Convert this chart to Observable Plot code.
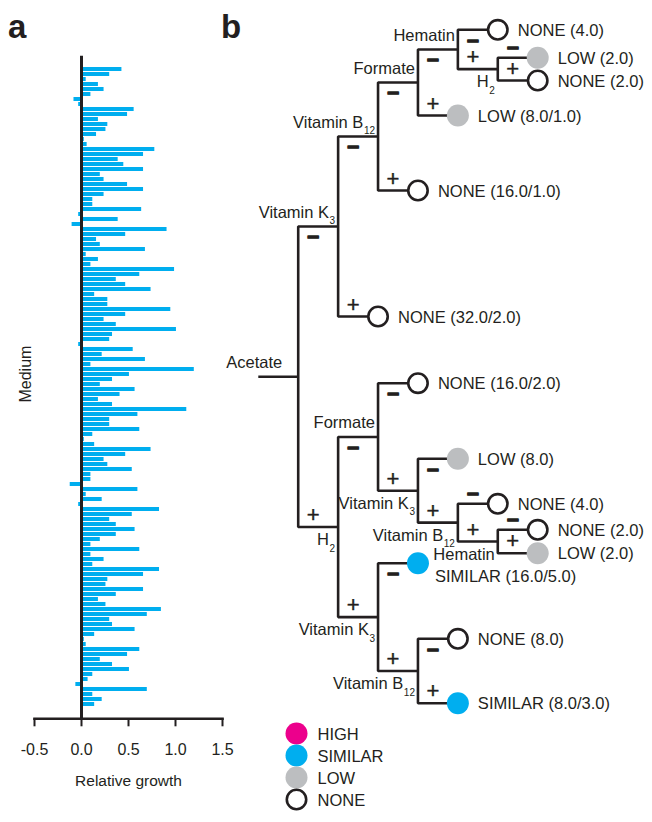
<!DOCTYPE html>
<html>
<head>
<meta charset="utf-8">
<script src="https://cdn.jsdelivr.net/npm/d3@7"></script>
<script src="https://cdn.jsdelivr.net/npm/@observablehq/plot@0.6"></script>
<style>
  html, body { margin: 0; padding: 0; background: #fff; }
  #wrap { position: relative; width: 652px; height: 822px; overflow: hidden; font-family: "Liberation Sans", Arial, sans-serif; color: #231f20; }
  #wrap .layer { position: absolute; }
  .plabel { position: absolute; font-weight: bold; font-size: 33px; line-height: 33px; }
</style>
</head>
<body>
<div id="wrap">
  <div class="plabel" style="left:8px;top:10px;">a</div>
  <div class="plabel" style="left:221px;top:10px;">b</div>
</div>
<script>
// ---------- Panel a data: relative growth for each of the 128 media (top to bottom) ----------
const growth = [
  0.43, 0.30, 0.05, 0.18, 0.24, 0.10, -0.08, -0.03, 0.56, 0.49,
  0.18, 0.28, 0.26, 0.16, 0.03, 0.06, 0.78, 0.66, 0.39, 0.45,
  0.66, 0.20, 0.24, 0.49, 0.66, 0.24, 0.12, 0.12, 0.64, -0.03,
  0.39, -0.10, 0.91, 0.47, 0.16, 0.20, 0.68, 0.05, 0.18, 0.10,
  0.99, 0.62, 0.37, 0.47, 0.74, 0.14, 0.28, 0.28, 0.95, 0.47,
  0.24, 0.37, 1.01, 0.33, 0.30, -0.03, 0.55, 0.22, 0.68, 0.10,
  1.20, 0.51, 0.33, 0.20, 0.57, 0.41, 0.18, 0.33, 1.12, 0.60,
  0.30, 0.30, 0.62, 0.12, 0.03, 0.14, 0.74, 0.47, 0.24, 0.28,
  0.54, 0.10, 0.10, -0.12, 0.60, 0.05, 0.22, -0.03, 0.83, 0.54,
  0.30, 0.37, 0.57, 0.37, 0.20, 0.10, 0.62, 0.10, 0.24, 0.12,
  0.83, 0.66, 0.28, 0.26, 0.66, 0.37, 0.18, 0.26, 0.85, 0.70,
  0.30, 0.33, 0.57, 0.14, 0.03, 0.05, 0.62, 0.49, 0.20, 0.33,
  0.51, 0.12, 0.07, -0.06, 0.70, 0.12, 0.22, 0.14
];
const mediumIds = growth.map((_, i) => i);
const xTicks = [-0.5, 0, 0.5, 1, 1.5];

// ---------- Panel b data: decision tree ----------
const classes = ["HIGH", "SIMILAR", "LOW", "NONE"];
const classColors = ["#ec008c", "#00aeef", "#bcbec0", "#ffffff"];

const leafClasses = ["NONE", "LOW", "NONE", "LOW", "NONE", "NONE",
                     "NONE", "LOW", "NONE", "NONE", "LOW", "SIMILAR", "NONE", "SIMILAR"];
const leafLabels = ["NONE (4.0)", "LOW (2.0)", "NONE (2.0)", "LOW (8.0/1.0)", "NONE (16.0/1.0)", "NONE (32.0/2.0)",
                    "NONE (16.0/2.0)", "LOW (8.0)", "NONE (4.0)", "NONE (2.0)", "LOW (2.0)", "SIMILAR (16.0/5.0)",
                    "NONE (8.0)", "SIMILAR (8.0/3.0)"];
// vertical row of each leaf (tree units)
const leafRows = [29.3, 57.3, 80, 115, 190, 316, 382.7, 458.3, 503.3, 529.3, 552.7, 562.7, 638.3, 702.7];
const leafLabelBelow = [false, false, false, false, false, false, false, false, false, false, false, true, false, false];

// internal nodes: attribute (subscript after "_"), minus branch, plus branch; numbers are leaf indices
const tree = {attr: "Acetate", side: "above",
  minus: {attr: "Vitamin K_3", side: "above",
    minus: {attr: "Vitamin B_12", side: "above",
      minus: {attr: "Formate", side: "above",
        minus: {attr: "Hematin", side: "above",
          minus: 0,
          plus: {attr: "H_2", side: "below", minus: 1, plus: 2}},
        plus: 3},
      plus: 4},
    plus: 5},
  plus: {attr: "H_2", side: "below",
    minus: {attr: "Formate", side: "above",
      minus: 6,
      plus: {attr: "Vitamin K_3", side: "below",
        minus: 7,
        plus: {attr: "Vitamin B_12", side: "below",
          minus: 8,
          plus: {attr: "Hematin", side: "below", minus: 9, plus: 10}}}},
    plus: {attr: "Vitamin K_3", side: "below",
      minus: 11,
      plus: {attr: "Vitamin B_12", side: "below", minus: 12, plus: 13}}}
};

// ---------- tree layout (depth -> x, midpoint of children -> y) ----------
const xDomain = [-1, 6], xRange = [257.8, 537.2];
const xUnit = (xRange[1] - xRange[0]) / (xDomain[1] - xDomain[0]);
const segs = [], nodes = [], signs = [], leaves = [];
let nid = 0;
function place(n, depth) {
  if (typeof n === "number") {
    leaves.push({x: depth, y: leafRows[n], cls: leafClasses[n], label: leafLabels[n], below: leafLabelBelow[n]});
    return leafRows[n];
  }
  const ym = place(n.minus, depth + 1);
  const yp = place(n.plus, depth + 1);
  const y = (ym + yp) / 2;
  const id = nid++;
  segs.push({id, x: depth + 1, y: ym}, {id, x: depth, y: ym}, {id, x: depth, y: yp}, {id, x: depth + 1, y: yp});
  const [main, sub] = n.attr.split("_");
  nodes.push({main, sub: sub || "", x: depth, y, side: n.side, root: depth === 0});
  const tight = yp - ym < 39;
  signs.push({x: depth, y: ym + (tight ? -10 : 11), s: "\u2212", kind: "minus"});
  signs.push({x: depth, y: yp - 12, s: "+", kind: "plus"});
  return y;
}
const rootY = place(tree, 0);
segs.push({id: "stub", x: -1, y: rootY}, {id: "stub", x: 0, y: rootY});

const ink = "#231f20";
const baseStyle = {fontFamily: "'Liberation Sans', Arial, sans-serif", fontSize: "16px", color: ink, background: "transparent", overflow: "visible"};

// ---------- Panel a ----------
const plotA = Plot.plot({
  width: 240, height: 822,
  marginLeft: 34, marginRight: 18, marginTop: 55.7, marginBottom: 103.7,
  x: {domain: [-0.5, 1.5], axis: null},
  y: {type: "band", domain: mediumIds, range: [55.7, 716.7], paddingInner: 0.12, paddingOuter: 0, axis: null},
  style: baseStyle,
  marks: [
    Plot.barX(growth, {x: d => d, y: (d, i) => mediumIds[i], fill: "#00aeef"}),
    Plot.ruleX([0], {stroke: ink, strokeWidth: 3}),
    Plot.frame({anchor: "bottom", stroke: ink, strokeWidth: 2.6}),
    Plot.axisX({ticks: xTicks, tickSize: 8, tickPadding: 17, tickFormat: d => d.toFixed(1), fontSize: 16, strokeWidth: 2, stroke: ink, label: null}),
    Plot.text(["Relative growth"], {text: d => d, frameAnchor: "bottom", dy: 67, fontSize: 15.5, fill: ink}),
    Plot.text(["Medium"], {text: d => d, frameAnchor: "left", rotate: -90, dx: -9, dy: 15, fontSize: 16, fill: ink})
  ]
});
plotA.classList.add("layer");
plotA.style.left = "0px"; plotA.style.top = "0px";

// ---------- Panel b ----------
const labelMain = nodes.map(d => {
  const off = d.root ? -16 : -3;
  const subW = d.sub ? d.sub.length * 5.6 + 0.5 : 0;
  return {text: d.main, x: d.x + (off - subW) / xUnit, y: d.y + (d.side === "above" ? -14 : 13)};
});
const labelSub = nodes.filter(d => d.sub).map(d => ({
  text: d.sub, x: d.x + (-3) / xUnit, y: d.y + (d.side === "above" ? -14 : 13) + 8.5
}));

const plotB = Plot.plot({
  width: 652, height: 822, margin: 0,
  x: {domain: xDomain, range: xRange, axis: null},
  y: {domain: [0, 822], range: [0, 822], axis: null},
  color: {domain: classes, range: classColors},
  style: baseStyle,
  marks: [
    Plot.line(segs, {x: "x", y: "y", z: "id", stroke: ink, strokeWidth: 2.6, strokeLinejoin: "miter", strokeLinecap: "butt", curve: "linear"}),
    Plot.dot(leaves.filter(d => d.cls !== "NONE"), {x: "x", y: "y", r: 11, fill: "cls"}),
    Plot.dot(leaves.filter(d => d.cls === "NONE"), {x: "x", y: "y", r: 9.7, fill: "white", stroke: ink, strokeWidth: 2.6}),
    Plot.text(leaves, {x: d => d.x + (d.below ? -3 : 0) / xUnit, y: d => d.y + (d.below ? 14 : 1), text: "label", textAnchor: "start", dx: 20, fontSize: 16.5, fill: ink}),
    Plot.text(labelMain, {x: "x", y: "y", text: "text", textAnchor: "end", fontSize: 16.5, fill: ink}),
    Plot.text(labelSub, {x: "x", y: "y", text: "text", textAnchor: "end", fontSize: 10, fill: ink}),
    Plot.text(signs.filter(d => d.kind === "minus"), {x: "x", y: "y", text: "s", dx: 15, fontSize: 21, fontWeight: "bold", fill: ink, stroke: ink, strokeWidth: 1.3}),
    Plot.text(signs.filter(d => d.kind === "plus"), {x: "x", y: "y", text: "s", dx: 15, fontSize: 22, fill: ink, stroke: ink, strokeWidth: 0.4})
  ]
});
plotB.classList.add("layer");
plotB.style.left = "0px"; plotB.style.top = "0px";

// ---------- Legend ----------
const plotL = Plot.plot({
  width: 120, height: 117, margin: 0,
  y: {type: "point", domain: classes, range: [16, 106.6], axis: null},
  color: {domain: classes, range: classColors},
  style: baseStyle,
  marks: [
    Plot.dot(classes.filter(c => c !== "NONE"), {y: d => d, frameAnchor: "left", dx: 11, r: 11, fill: d => d}),
    Plot.dot(classes.filter(c => c === "NONE"), {y: d => d, frameAnchor: "left", dx: 11, r: 9.7, fill: "white", stroke: ink, strokeWidth: 2.6}),
    Plot.text(classes, {y: d => d, text: d => d, frameAnchor: "left", dx: 32, dy: 1.5, textAnchor: "start", fontSize: 16.5, fill: ink})
  ]
});
plotL.classList.add("layer");
plotL.style.left = "285px"; plotL.style.top = "705px";

const wrap = document.getElementById("wrap");
wrap.insertBefore(plotA, wrap.firstChild);
wrap.insertBefore(plotB, plotA.nextSibling);
wrap.appendChild(plotL);
</script>
</body>
</html>
